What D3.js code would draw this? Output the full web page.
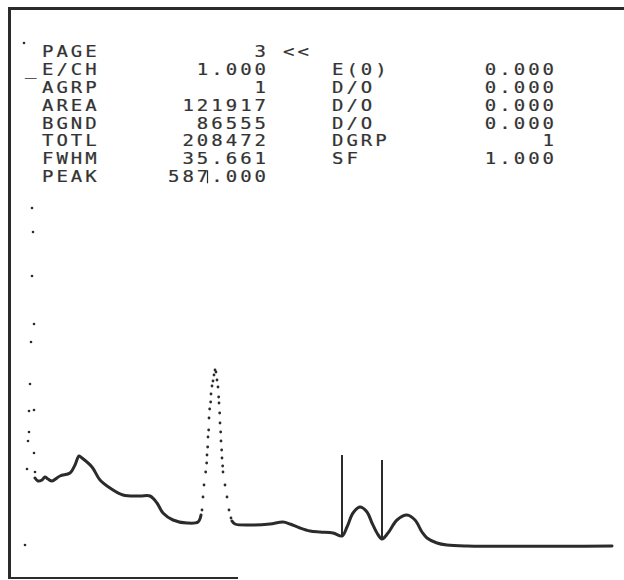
<!DOCTYPE html>
<html>
<head>
<meta charset="utf-8">
<script src="https://cdn.jsdelivr.net/npm/d3@7"></script>
<style>
  body { margin: 0; background: #fff; }
  svg text { font-family: "DejaVu Sans Mono", monospace; fill: #333; stroke: #333; stroke-width: 0.2px; }
</style>
</head>
<body>
<svg id="chart" width="624" height="580"></svg>
<script>
// spectrum: [channel, counts]
var leftCurve = [[45,68],[54,65],[66,66],[75,69],[84,67],[96,65],[120,70],[150,73],[165,81],[177,90],
  [186,88],[216,79],[240,66],[270,58],[309,51],[360,50],[390,50],[411,43],[429,33],[459,26],[501,23],[534,24],[543,31]];
var peakDots = [[546,36],[549,49],[552,61],[557,74],[560,83],[561,91],[563,99],[564,109],[566,116],[567,128],
  [569,137],[572,144],[573,152],[576,160],[579,165],[582,171],[585,176],[588,174],[591,166],[594,159],[596,149],
  [597,143],[599,133],[600,123],[602,114],[603,105],[605,96],[606,88],[608,80],[609,74],[615,61],[621,49],[627,36],[633,28]];
var rightCurve = [[636,25],[645,22],[699,21],[750,22],[789,24],[810,22],[840,18],[870,15],[900,14],[939,13],[966,10],
  [981,19],[999,33],[1020,39],[1041,34],[1056,23],[1071,13],[1086,7],
  [1104,13],[1131,26],[1161,31],[1185,26],[1206,14],[1221,8],[1251,3],[1281,1],[1341,0],[1776,0]];
var overflowDots = [[36,338],[39,314],[36,270],[42,222],[33,204],[30,162],[27,135],[42,136],[27,114],
  [24,105],[42,93],[21,77],[45,74],[15,1],[12,503]];
var markers = [[966,91],[1086,86]];

var labelsA = ["PAGE","E/CH","AGRP","AREA","BGND","TOTL","FWHM","PEAK"];
var valuesA = ["3","1.000","1","121917","86555","208472","35.661","587.000"];
var labelsB = ["","E(0)","D/O","D/O","D/O","DGRP","SF",""];
var valuesB = ["","0.000","0.000","0.000","0.000","1","1.000",""];

var svg = d3.select("#chart");
var ink = "#2b2b2b";

var x = d3.scaleLinear().domain([0, 1800]).range([20, 620]);
var y = d3.scaleLinear().domain([0, 540]).range([546, 6]);

// screen frame
svg.append("line").attr("x1", 9.5).attr("x2", 9.5).attr("y1", 7).attr("y2", 579)
  .attr("stroke", ink).attr("stroke-width", 3);
svg.append("line").attr("x1", 8).attr("x2", 624).attr("y1", 8.5).attr("y2", 8.5)
  .attr("stroke", ink).attr("stroke-width", 3);
svg.append("line").attr("x1", 8).attr("x2", 238).attr("y1", 578).attr("y2", 578)
  .attr("stroke", ink).attr("stroke-width", 2);

// text block, stretched sideways like the terminal's wide characters
var sx = 1.25, ls = 2.4, rowY = function(i) { return 57 + i * 17.9; };
var txt = svg.append("g").attr("transform", "scale(" + sx + ",1)")
  .attr("font-size", 15.2).attr("letter-spacing", ls);
function put(cls, data, px, anchor) {
  txt.selectAll("text." + cls).data(data).enter().append("text")
    .attr("class", cls)
    .attr("x", anchor === "end" ? px / sx + ls : px / sx)
    .attr("y", function(d, i) { return rowY(i); })
    .attr("text-anchor", anchor)
    .text(function(d) { return d; });
}
put("la", labelsA, 42, "start");
put("va", valuesA, 266, "end");
put("lb", labelsB, 332, "start");
put("vb", valuesB, 554, "end");
txt.append("text").attr("x", 283 / sx).attr("y", rowY(0)).text("<<");
txt.append("text").attr("x", 25 / sx).attr("y", rowY(1)).text("_");
// cursor bar in the PEAK value
svg.append("line").attr("x1", 207.5).attr("x2", 207.5).attr("y1", rowY(7) - 12).attr("y2", rowY(7) + 1)
  .attr("stroke", ink).attr("stroke-width", 1.2);

// spectrum
var line = d3.line().x(function(d) { return x(d[0]); }).y(function(d) { return y(d[1]); })
  .curve(d3.curveCatmullRom);
[leftCurve, rightCurve].forEach(function(seg) {
  svg.append("path").datum(seg).attr("d", line)
    .attr("fill", "none").attr("stroke", ink).attr("stroke-width", 3)
    .attr("stroke-linejoin", "round").attr("stroke-linecap", "round");
});

svg.selectAll("circle.pk").data(peakDots).enter().append("circle")
  .attr("class", "pk").attr("cx", function(d) { return x(d[0]); }).attr("cy", function(d) { return y(d[1]); })
  .attr("r", 1.4).attr("fill", ink);

svg.selectAll("circle.ov").data(overflowDots).enter().append("circle")
  .attr("class", "ov").attr("cx", function(d) { return x(d[0]); }).attr("cy", function(d) { return y(d[1]); })
  .attr("r", 1.3).attr("fill", ink);

// ROI markers
svg.selectAll("line.mk").data(markers).enter().append("line")
  .attr("class", "mk")
  .attr("x1", function(d) { return x(d[0]); }).attr("x2", function(d) { return x(d[0]); })
  .attr("y1", function(d) { return y(d[1]); }).attr("y2", function(d) {
    var p = rightCurve.find(function(q) { return q[0] === d[0]; });
    return y(p ? p[1] : 0);
  })
  .attr("stroke", ink).attr("stroke-width", 2);
</script>
</body>
</html>
